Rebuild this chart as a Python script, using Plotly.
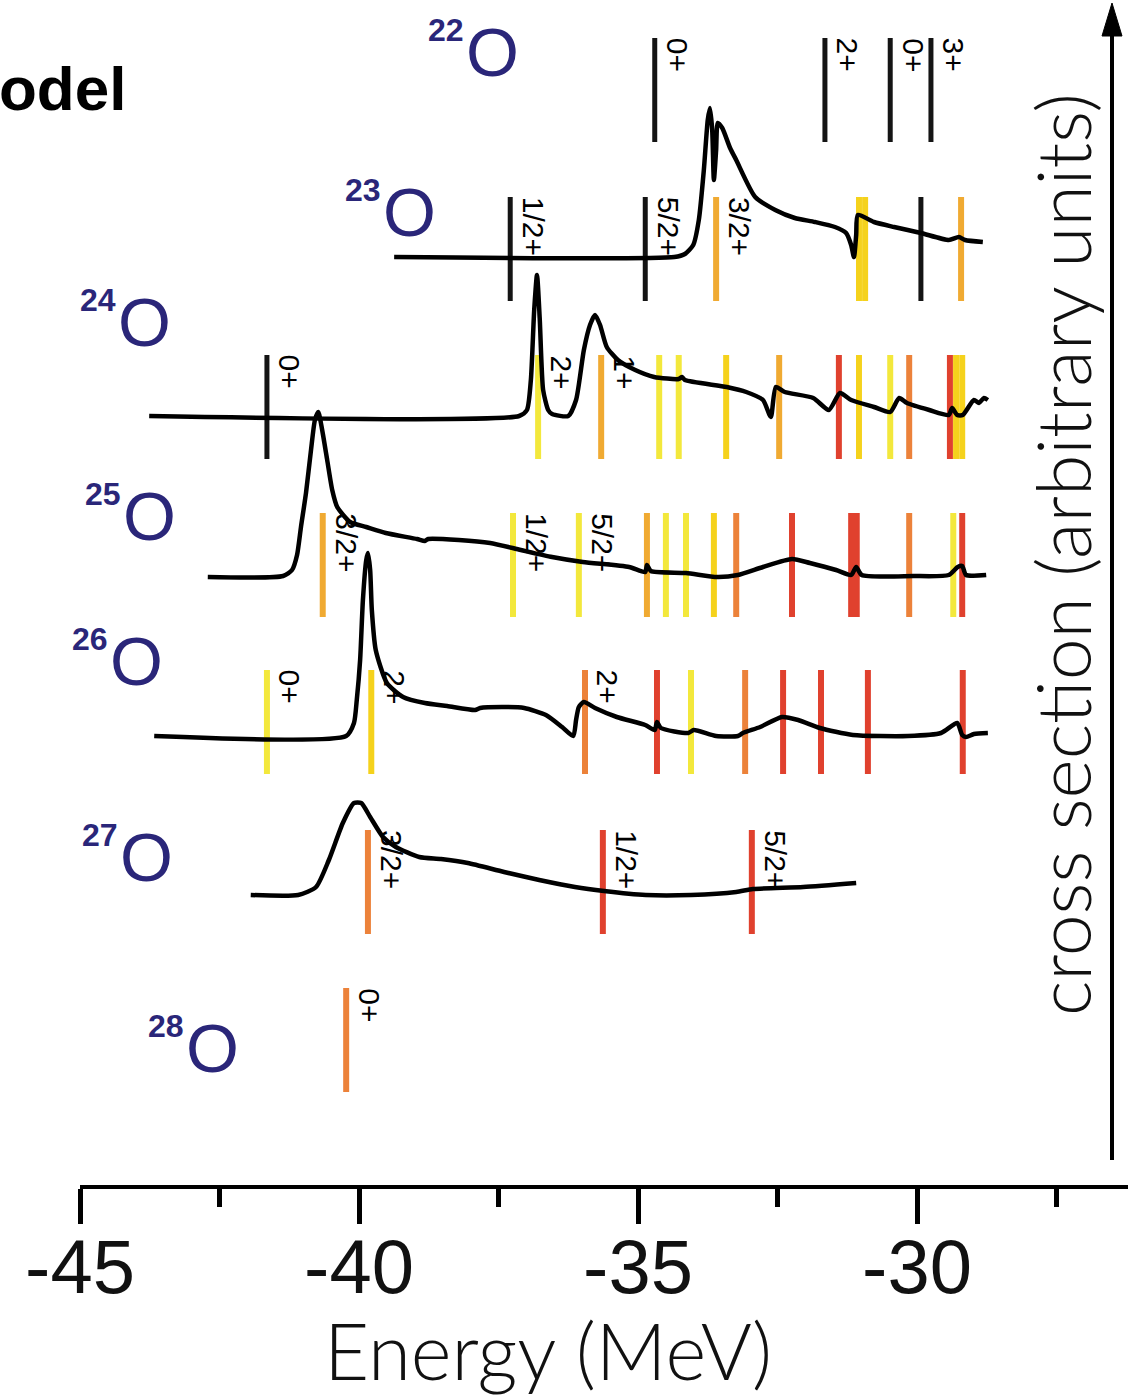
import plotly.graph_objects as go

# ---------------- DATA ----------------
# Cross-section curves (energy in MeV, cross section in arbitrary units above each row baseline)
o23_energy = [-39.37, -34.35, -34.16, -34.01, -33.91, -33.82, -33.75, -33.71, -33.67, -33.64, -33.60,
              -33.57, -33.49, -33.35, -33.24, -32.90, -32.54, -32.19, -31.83, -31.47, -31.27, -31.18,
              -31.13, -31.09, -31.06, -30.77, -30.41, -29.93, -29.43, -29.25, -29.14, -28.82]
o23_sigma = [0, 0, 3, 12, 37, 87, 137, 149, 127, 77, 107,
             134, 129, 109, 97, 60, 47, 39, 35, 30, 24, 12,
             0, 22, 42, 35, 30, 24, 17, 20, 17, 15]

o24_energy = [-43.76, -37.13, -36.99, -36.92, -36.86, -36.81, -36.76, -36.70, -36.61, -36.54, -36.25,
              -36.11, -35.97, -35.86, -35.77, -35.68, -35.56, -35.36, -35.05, -34.71, -34.27, -34.21,
              -34.16, -33.41, -33.06, -32.76, -32.62, -32.53, -32.37, -31.86, -31.58, -31.38, -31.18,
              -30.77, -30.48, -30.32, -30.18, -29.78, -29.43, -29.37, -29.28, -29.18, -28.98, -28.89,
              -28.80, -28.73]
o24_sigma = [0, 0, 6, 36, 106, 141, 96, 26, 6, 2, 0,
             16, 66, 91, 101, 91, 69, 56, 46, 39, 37, 39,
             36, 29, 24, 16, -1, 29, 24, 18, 6, 23, 16,
             9, 4, 18, 13, 6, 1, 8, 1, 1, 16, 13,
             18, 16]

o25_energy = [-42.71, -41.36, -41.20, -41.11, -41.04, -40.95, -40.86, -40.79, -40.73, -40.66, -40.57,
              -40.48, -40.39, -40.16, -39.87, -39.52, -38.96, -38.82, -38.76, -38.21, -37.65, -37.10,
              -36.54, -35.99, -35.16, -34.87, -34.84, -34.77, -34.14, -33.58, -33.21, -32.76, -32.24,
              -31.92, -31.45, -31.18, -31.09, -30.99, -30.07, -29.43, -29.27, -29.19, -29.12, -28.76]
o25_sigma = [0, 1, 7, 22, 50, 84, 127, 157, 165, 147, 117,
             87, 70, 55, 50, 44, 38, 36, 38, 37, 34, 27,
             20, 15, 10, 5, 12, 6, 4, 0, 2, 10, 18,
             14, 7, 2, 10, 2, 1, 2, 10, 11, 2, 2]

o26_energy = [-43.67, -40.23, -40.09, -40.04, -39.98, -39.93, -39.87, -39.84, -39.80, -39.77, -39.70,
              -39.50, -39.21, -38.82, -38.42, -37.92, -37.83, -37.44, -37.04, -36.65, -36.36, -36.16,
              -36.11, -36.06, -35.97, -35.77, -35.38, -34.87, -34.70, -34.66, -34.59, -34.10, -34.00,
              -33.60, -33.21, -33.12, -32.81, -32.42, -32.13, -31.74, -31.15, -30.16, -29.57, -29.28,
              -29.19, -29.12, -28.98, -28.73]
o26_sigma = [0, 0, 13, 36, 76, 136, 176, 183, 166, 126, 86,
             53, 39, 33, 30, 26, 28, 29, 28, 21, 9, 0,
             16, 29, 34, 28, 19, 11, 6, 14, 8, 3, 6,
             0, 0, 3, 9, 19, 16, 8, 1, 0, 3, 13,
             1, -1, 2, 3]

o27_energy = [-41.94, -41.09, -40.77, -40.54, -40.29, -40.09, -39.96, -39.80, -39.57, -39.34, -38.92,
              -38.53, -38.05, -37.40, -36.77, -36.13, -35.61, -34.86, -34.05, -33.24, -32.94, -32.04,
              -31.09]
o27_sigma = [0, 0, 8, 35, 72, 92, 92, 78, 58, 48, 38,
             36, 32, 23, 15, 8, 4, 0, 0, 3, 6, 8,
             12]

# Shell-model levels: energy (MeV), strength class (0 = black ... 5 = red), spin-parity label
o22_lev_energy = [-34.70, -31.65, -30.48, -29.75]
o22_lev_class = [0, 0, 0, 0]
o22_lev_label = ["0+", "2+", "0+", "3+"]

o23_lev_energy = [-37.29, -34.87, -33.60, -31.04, -30.93, -29.93, -29.21]
o23_lev_class = [0, 0, 3, 2, 2, 0, 3]
o23_lev_label = ["1/2+", "5/2+", "3/2+", "", "", "", ""]

o24_lev_energy = [-41.65, -36.79, -35.66, -34.62, -34.27, -33.42, -32.47, -31.40, -31.04, -30.48,
                  -30.14, -29.41, -29.30, -29.19]
o24_lev_class = [0, 1, 3, 1, 1, 2, 3, 5, 2, 1, 4, 5, 2, 2]
o24_lev_label = ["0+", "2+", "1+", "", "", "", "", "", "", "", "", "", "", ""]

o25_lev_energy = [-40.65, -37.24, -36.06, -34.84, -34.50, -34.14, -33.64, -33.24, -32.24, -31.18,
                  -31.08, -30.14, -29.35, -29.19]
o25_lev_class = [3, 1, 1, 3, 1, 1, 2, 4, 5, 5, 5, 4, 1, 5]
o25_lev_label = ["3/2+", "1/2+", "5/2+", "", "", "", "", "", "", "", "", "", "", ""]

o26_lev_energy = [-41.65, -39.78, -35.95, -34.66, -34.05, -33.08, -32.40, -31.72, -30.88, -29.18]
o26_lev_class = [1, 2, 4, 5, 1, 4, 5, 5, 5, 5]
o26_lev_label = ["0+", "2+", "2+", "", "", "", "", "", "", ""]

o27_lev_energy = [-39.84, -35.63, -32.96]
o27_lev_class = [4, 5, 5]
o27_lev_label = ["3/2+", "1/2+", "5/2+"]

o28_lev_energy = [-40.23]
o28_lev_class = [4]
o28_lev_label = ["0+"]

mass_numbers = [22, 23, 24, 25, 26, 27, 28]
x_tick_values = [-45, -40, -35, -30]
x_tick_labels = ["-45", "-40", "-35", "-30"]
x_minor_values = [-42.5, -37.5, -32.5, -27.5]

# ---------------- LAYOUT / STYLE ----------------
W, H = 1145, 1398
PLOT_L, PLOT_R = 80, 1128          # pixel extent of the energy axis
AXIS_Y = 1185                      # pixel row of the energy axis
PX_PER_MEV = 55.8
X_MIN = -45.0
X_MAX = X_MIN + (PLOT_R - PLOT_L) / PX_PER_MEV

CLASS_COLOR = {0: "#141414", 1: "#f3e83c", 2: "#f5d21c", 3: "#f0aa32", 4: "#ec823a", 5: "#e0412e"}
CLASS_WIDTH = {0: 5, 1: 6, 2: 6, 3: 6, 4: 6, 5: 6}
NAVY = "#2a2679"
FONT = "Liberation Sans, Arial, sans-serif"
THIN = "Lato, Liberation Sans, Arial, sans-serif"


def yd(py):       # pixel row -> data y
    return AXIS_Y - py


def px_paper(px):
    return (px - PLOT_L) / (PLOT_R - PLOT_L)


def py_paper(py):
    return (AXIS_Y - py) / AXIS_Y


# rows: pixel top of level band, pixel baseline of curve, label anchors (O left, O centre y)
rows = [
    dict(levels=(o22_lev_energy, o22_lev_class, o22_lev_label), curve=None,
         band_top=38, base=None, o_left=468, o_cy=52),
    dict(levels=(o23_lev_energy, o23_lev_class, o23_lev_label), curve=(o23_energy, o23_sigma),
         band_top=197, base=257, o_left=385, o_cy=212),
    dict(levels=(o24_lev_energy, o24_lev_class, o24_lev_label), curve=(o24_energy, o24_sigma),
         band_top=355, base=416, o_left=120, o_cy=322),
    dict(levels=(o25_lev_energy, o25_lev_class, o25_lev_label), curve=(o25_energy, o25_sigma),
         band_top=513, base=577, o_left=125, o_cy=516),
    dict(levels=(o26_lev_energy, o26_lev_class, o26_lev_label), curve=(o26_energy, o26_sigma),
         band_top=670, base=736, o_left=112, o_cy=661),
    dict(levels=(o27_lev_energy, o27_lev_class, o27_lev_label), curve=(o27_energy, o27_sigma),
         band_top=830, base=895, o_left=122, o_cy=857),
    dict(levels=(o28_lev_energy, o28_lev_class, o28_lev_label), curve=None,
         band_top=988, base=None, o_left=188, o_cy=1048),
]
BAND_H = 104

fig = go.Figure()
annotations = []

# level lines grouped by colour class
for cls in sorted(CLASS_COLOR):
    xs, ys = [], []
    for r in rows:
        en, cl, _ = r["levels"]
        for e, c in zip(en, cl):
            if c == cls:
                xs += [e, e, None]
                ys += [yd(r["band_top"] + BAND_H), yd(r["band_top"]), None]
    if xs:
        fig.add_trace(go.Scatter(x=xs, y=ys, mode="lines", hoverinfo="skip",
                                 line=dict(color=CLASS_COLOR[cls], width=CLASS_WIDTH[cls])))

# curves
for r in rows:
    if r["curve"] is None:
        continue
    en, sg = r["curve"]
    fig.add_trace(go.Scatter(x=en, y=[yd(r["base"]) + s for s in sg], mode="lines",
                             hoverinfo="skip",
                             line=dict(color="black", width=4.5, shape="spline", smoothing=0.6)))

# level labels (rotated)
for r in rows:
    en, cl, lb = r["levels"]
    for e, t in zip(en, lb):
        if not t:
            continue
        annotations.append(dict(x=e, y=yd(r["band_top"]), xref="x", yref="y", text=t,
                                showarrow=False, textangle=90, xanchor="left", yanchor="top",
                                xshift=5, yshift=2,
                                font=dict(family=FONT, size=30, color="black")))

# isotope labels
for m, r in zip(mass_numbers, rows):
    annotations.append(dict(x=px_paper(r["o_left"] - 4), y=py_paper(r["o_cy"]), xref="paper",
                            yref="paper", text="O", showarrow=False, xanchor="left",
                            yanchor="middle", font=dict(family=FONT, size=68, color=NAVY)))
    annotations.append(dict(x=px_paper(r["o_left"] - 2), y=py_paper(r["o_cy"] - 22), xref="paper",
                            yref="paper", text="<b>%d</b>" % m, showarrow=False, xanchor="right",
                            yanchor="middle", font=dict(family=FONT, size=32, color=NAVY)))

# cropped title fragment at top-left
annotations.append(dict(x=px_paper(128), y=py_paper(88), xref="paper", yref="paper",
                        text="<b>odel</b>", showarrow=False, xanchor="right", yanchor="middle",
                        font=dict(family=FONT, size=62, color="black")))

# axis titles
annotations.append(dict(x=px_paper(548), y=py_paper(1350), xref="paper", yref="paper",
                        text="Energy (MeV)", showarrow=False, xanchor="center", yanchor="middle",
                        font=dict(family=THIN, size=78, color="#111111", weight=300)))
annotations.append(dict(x=px_paper(1062), y=py_paper(555), xref="paper", yref="paper",
                        text="cross section (arbitrary units)", showarrow=False, textangle=-90,
                        xanchor="center", yanchor="middle",
                        font=dict(family=THIN, size=75, color="#111111", weight=300)))

# vertical arrow on the right
ARROW_X = 1112
shapes = [
    dict(type="line", xref="paper", yref="paper", x0=px_paper(ARROW_X), x1=px_paper(ARROW_X),
         y0=py_paper(1160), y1=py_paper(30), line=dict(color="black", width=4)),
    dict(type="path", xref="paper", yref="paper", fillcolor="black", line=dict(color="black", width=1),
         path="M %f,%f L %f,%f L %f,%f Z" % (px_paper(ARROW_X), py_paper(3),
                                             px_paper(ARROW_X - 10), py_paper(36),
                                             px_paper(ARROW_X + 10), py_paper(36))),
]

fig.update_layout(
    width=W, height=H,
    margin=dict(l=PLOT_L, r=W - PLOT_R, t=0, b=H - AXIS_Y, pad=0),
    paper_bgcolor="white", plot_bgcolor="white",
    showlegend=False,
    annotations=annotations,
    shapes=shapes,
    xaxis=dict(range=[X_MIN, X_MAX], showgrid=False, zeroline=False,
               showline=True, linecolor="black", linewidth=4,
               ticks="outside", ticklen=35, tickwidth=5, tickcolor="black",
               tickvals=x_tick_values, ticktext=x_tick_labels,
               tickfont=dict(family=FONT, size=76, color="#111111"),
               ticklabelstandoff=-22,
               minor=dict(tickvals=x_minor_values, ticks="outside", ticklen=18, tickwidth=5,
                          tickcolor="black", showgrid=False)),
    yaxis=dict(range=[0, AXIS_Y], visible=False, showgrid=False, zeroline=False),
)

fig.write_html("out.html")
